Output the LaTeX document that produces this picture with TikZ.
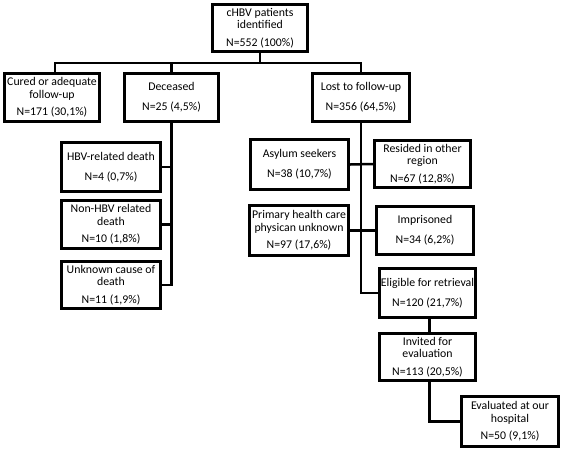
\documentclass[tikz,border=0pt]{standalone}
\usepackage{fontspec}
\setmainfont{Carlito}
\usetikzlibrary{shadows}
\tikzset{
  box/.style={draw=black, line width=3.4pt, fill=white, align=center,
    inner sep=0pt, font=\fontsize{11.8}{12.6}\selectfont,
    drop shadow={shadow xshift=1.5pt, shadow yshift=-1.5pt, fill=black!35, opacity=0.6}},
  conn/.style={draw=black, line width=2.5pt}
}
\newcommand{\bx}[4]{\node[box, minimum width=#3pt, minimum height=#4pt] (#1) at (#2)}
\begin{document}
\begin{tikzpicture}[x=1pt,y=-1pt]
\useasboundingbox (0,0) rectangle (564,452);
\bx{top}{260,28}{95}{47} {cHBV patients\\identified\\[5pt]N=552 (100\%)};
\bx{cured}{52,97.5}{95}{48} {Cured or adequate\\follow-up\\[5pt]N=171 (30,1\%)};
\bx{deceased}{171.5,97.5}{94}{48} {Deceased\\[7pt]N=25 (4,5\%)};
\bx{lost}{361,97.5}{97}{48} {Lost to follow-up\\[7pt]N=356 (64,5\%)};
\bx{hbv}{111,167}{99}{49} {HBV-related death\\[7pt]N=4 (0,7\%)};
\bx{nonhbv}{111,224.5}{99}{48} {Non-HBV related\\death\\[5pt]N=10 (1,8\%)};
\bx{unknown}{111,285}{99}{47} {Unknown cause of\\death\\[5pt]N=11 (1,9\%)};
\bx{asylum}{299.5,164.5}{98}{50} {Asylum seekers\\[7pt]N=38 (10,7\%)};
\bx{resided}{422.5,164}{96}{47} {Resided in other\\region\\[5pt]N=67 (12,8\%)};
\bx{primary}{299,230.5}{99}{50} {Primary health care\\physican unknown\\[5pt]N=97 (17,6\%)};
\bx{imprisoned}{425,230.5}{97}{48} {Imprisoned\\[7pt]N=34 (6,2\%)};
\bx{eligible}{427.5,293}{96}{49} {Eligible for retrieval\\[7pt]N=120 (21,7\%)};
\bx{invited}{427.5,357}{96}{47} {Invited for\\evaluation\\[5pt]N=113 (20,5\%)};
\bx{evaluated}{510,421.5}{97}{50} {Evaluated at our\\hospital\\[5pt]N=50 (9,1\%)};
\coordinate (bus) at (0,63);
\draw[conn] ([xshift=3pt]cured.north) |- (bus -| lost.north) -- (lost.north);
\draw[conn] (top.south) -- (top.south |- bus);
\draw[conn] (deceased.north) -- (deceased.north |- bus);
\draw[conn] (deceased.south) |- (unknown.east);
\draw[conn] (hbv.east) -- (hbv.east -| deceased.south);
\draw[conn] (nonhbv.east) -- (nonhbv.east -| deceased.south);
\draw[conn] (lost.south) |- (eligible.west);
\draw[conn] (asylum.east) -- (resided.west);
\draw[conn] (primary.east) -- (imprisoned.west);
\draw[conn] ([xshift=2pt]eligible.south) -- ([xshift=2pt]invited.north);
\draw[conn] ([xshift=2pt]invited.south) |- (evaluated.west);
\end{tikzpicture}
\end{document}
